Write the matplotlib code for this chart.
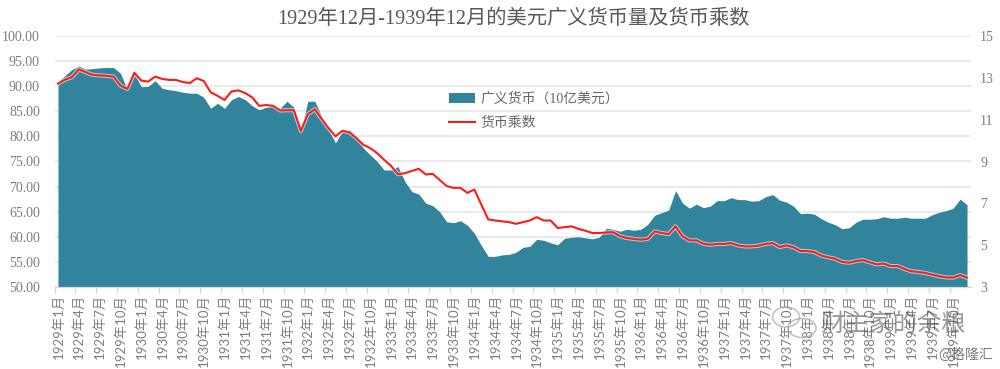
#!/usr/bin/env python3
# -*- coding: utf-8 -*-
import matplotlib
matplotlib.use("Agg")
import matplotlib.pyplot as plt
import matplotlib.patheffects as pe
from matplotlib.patches import Ellipse
import numpy as np

SERIF_CJK = ["Liberation Serif", "Noto Sans CJK SC"]
SANS_CJK = ["Lato", "Noto Sans CJK SC"]
GRIS = "#7f7f7f"

meses = [f"{a}年{m}月" for a in range(1929, 1940) for m in range(1, 13)]

broad_money = [
    90.9, 92.1, 93.3, 94.0, 93.4, 93.5, 93.65, 93.75, 93.7, 92.6,
    89.3, 92.6, 89.9, 89.95, 91.1, 89.6, 89.3, 89.1, 88.8, 88.6,
    88.6, 87.8, 85.6, 86.6, 85.6, 87.3, 87.95, 87.3, 86.1, 85.3,
    85.8, 86.1, 85.6, 87.0, 85.8, 81.0, 87.0, 87.0, 84.0, 81.3,
    78.7, 81.1, 81.3, 80.0, 77.7, 76.3, 75.0, 73.3, 73.3, 74.0,
    71.0, 69.0, 68.5, 66.7, 66.2, 65.0, 63.0, 62.8, 63.2, 62.3,
    60.7, 58.3, 56.1, 56.1, 56.4, 56.5, 56.9, 57.9, 58.1, 59.5,
    59.3, 58.8, 58.4, 59.7, 59.9, 60.0, 59.8, 59.6, 59.9, 61.7,
    61.5, 61.1, 61.5, 61.3, 61.5, 62.5, 64.3, 64.8, 65.3, 69.2,
    66.7, 65.7, 66.5, 65.8, 66.1, 67.2, 67.2, 67.8, 67.4, 67.4,
    67.1, 67.2, 68.0, 68.4, 67.3, 66.9, 66.1, 64.6, 64.7, 64.5,
    63.6, 62.9, 62.4, 61.6, 61.8, 62.9, 63.5, 63.5, 63.6, 64.0,
    63.7, 63.7, 63.9, 63.7, 63.7, 63.7, 64.4, 64.9, 65.2, 65.7,
    67.5, 66.4,
]

multiplicador = [
    12.72, 12.91, 13.03, 13.40, 13.27, 13.14, 13.12, 13.09, 13.06, 12.63,
    12.47, 13.24, 12.87, 12.82, 13.06, 12.95, 12.90, 12.90, 12.80, 12.75,
    12.98, 12.85, 12.31, 12.14, 11.94, 12.35, 12.40, 12.27, 12.06, 11.66,
    11.70, 11.66, 11.44, 11.45, 11.45, 10.46, 11.26, 11.50, 11.04, 10.59,
    10.20, 10.47, 10.39, 10.12, 9.80, 9.64, 9.40, 9.08, 8.79, 8.39,
    8.44, 8.55, 8.65, 8.38, 8.41, 8.12, 7.83, 7.74, 7.74, 7.50,
    7.66, 6.95, 6.23, 6.18, 6.14, 6.10, 6.02, 6.10, 6.18, 6.34,
    6.18, 6.18, 5.82, 5.86, 5.90, 5.78, 5.69, 5.58, 5.58, 5.61,
    5.62, 5.43, 5.34, 5.30, 5.26, 5.30, 5.66, 5.58, 5.53, 5.90,
    5.42, 5.23, 5.23, 5.07, 5.02, 5.06, 5.06, 5.10, 4.99, 4.94,
    4.94, 4.98, 5.06, 5.10, 4.91, 4.99, 4.90, 4.72, 4.72, 4.67,
    4.50, 4.42, 4.35, 4.20, 4.16, 4.24, 4.29, 4.18, 4.08, 4.12,
    4.00, 4.00, 3.86, 3.75, 3.72, 3.67, 3.59, 3.51, 3.46, 3.45,
    3.57, 3.45,
]

ticks_izq = [50, 55, 60, 65, 70, 75, 80, 85, 90, 95, 100]
ticks_der = [3, 5, 7, 9, 11, 13, 15]

x = np.arange(len(meses))

fig = plt.figure(figsize=(10, 3.69), dpi=100)
ax = fig.add_axes([54.5 / 1000, 1 - 287 / 369, 916 / 1000, 251 / 369])
ax2 = ax.twinx()

ax.fill_between(x, broad_money, 50, color="#31849b", linewidth=0, label="广义货币（10亿美元）", zorder=2)
ax2.plot(x, multiplicador, color="#ff1a1a", linewidth=1.5, label="货币乘数", solid_joinstyle="round",
         path_effects=[pe.Stroke(linewidth=3, foreground="white", alpha=0.6), pe.Normal()])

ax.set_xlim(-0.5, len(meses) - 0.5)
ax.set_ylim(50, 100)
ax2.set_ylim(3, 15)

ax.set_yticks(ticks_izq)
ax.set_yticklabels([f"{v:.2f}" for v in ticks_izq], family=SERIF_CJK, fontsize=10, color=GRIS)
ax2.set_yticks(ticks_der)
ax2.set_yticklabels([str(v) for v in ticks_der], family=SERIF_CJK, fontsize=10, color=GRIS)
ax.tick_params(axis="y", length=0, pad=10.5)
ax2.tick_params(axis="y", length=0, pad=7)

# las marcas van entre categorias, las etiquetas sobre la categoria
ax.set_xticks(x[::3] - 0.5)
ax.set_xticklabels([])
ax.tick_params(axis="x", length=4, color="#d9d9d9", width=1)
ax.set_xticks(x[::3], minor=True)
ax.set_xticklabels(meses[::3], minor=True, rotation=90, family=SANS_CJK, fontsize=9.5, color=GRIS)
ax.tick_params(axis="x", which="minor", length=0, pad=5)

ax.grid(axis="y", color="#e6e6e6", linewidth=1.2, zorder=0)
ax.set_axisbelow(True)
for a in (ax, ax2):
    for lado in ["top", "left", "right"]:
        a.spines[lado].set_visible(False)
    a.spines["bottom"].set_color("#d9d9d9")

h1, l1 = ax.get_legend_handles_labels()
h2, l2 = ax2.get_legend_handles_labels()
ley = ax2.legend(h1 + h2, l1 + l2, loc="upper left", bbox_to_anchor=(0.423, 0.804), frameon=False,
                 handlelength=1.9, handletextpad=0.35, labelspacing=0.8, borderpad=0,
                 prop={"family": SERIF_CJK, "size": 10})
for t in ley.get_texts():
    t.set_color("#666666")

fig.text(0.513, 1 - 19 / 369, "1929年12月-1939年12月的美元广义货币量及货币乘数", family=SERIF_CJK,
         fontsize=14.6, color="#595959", ha="center", va="center")

# marca de agua
fig.text(0.893, 1 - 324 / 369, "财主家的余粮", family="Noto Sans CJK SC", fontsize=17.5, color="#555555",
         alpha=0.6, ha="center", va="center", zorder=10)
fig.text(0.993, 1 - 355 / 369, "@格隆汇", family="Noto Sans CJK SC", fontsize=10, color="#666666",
         alpha=0.85, ha="right", va="center", zorder=10)
for cx, cy, w, h in [(786, 317, 27, 20), (802, 328, 28, 19)]:
    fig.add_artist(Ellipse((cx / 1000, 1 - cy / 369), w / 1000, h / 369, transform=fig.transFigure,
                           facecolor="none", edgecolor="#aaaaaa", linewidth=1.2, alpha=0.7))

fig.savefig("out.png", dpi=100)
plt.close(fig)
